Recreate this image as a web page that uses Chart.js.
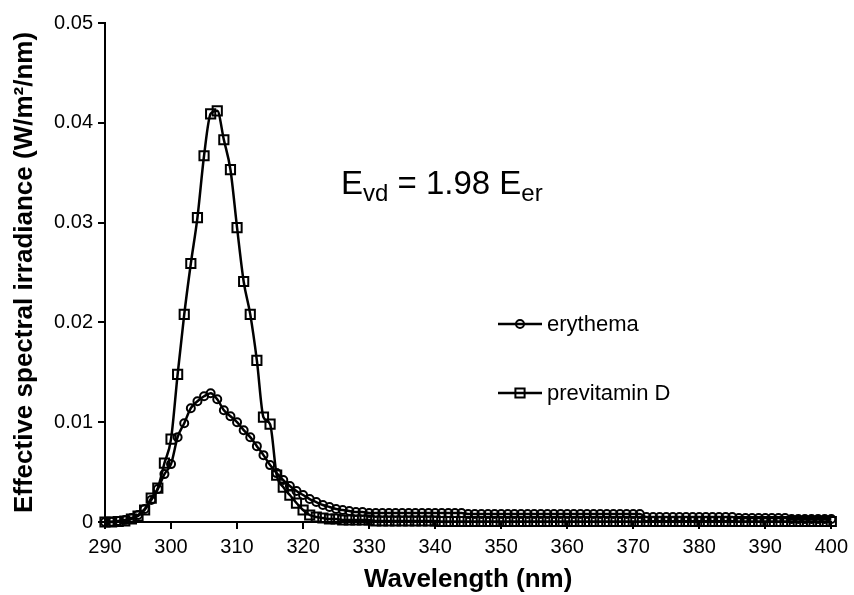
<!DOCTYPE html>
<html>
<head>
<meta charset="utf-8">
<script src="https://cdn.jsdelivr.net/npm/chart.js@4"></script>
<style>
  html, body { margin: 0; padding: 0; background: #fff; }
  #wrap { width: 854px; height: 595px; }
</style>
</head>
<body>
<div id="wrap"><canvas id="chart" width="854" height="595"></canvas></div>
<script>
const wavelengths = [
  290, 291, 292, 293, 294, 295, 296, 297, 298, 299,
  300, 301, 302, 303, 304, 305, 306, 307, 308, 309,
  310, 311, 312, 313, 314, 315, 316, 317, 318, 319,
  320, 321, 322, 323, 324, 325, 326, 327, 328, 329,
  330, 331, 332, 333, 334, 335, 336, 337, 338, 339,
  340, 341, 342, 343, 344, 345, 346, 347, 348, 349,
  350, 351, 352, 353, 354, 355, 356, 357, 358, 359,
  360, 361, 362, 363, 364, 365, 366, 367, 368, 369,
  370, 371, 372, 373, 374, 375, 376, 377, 378, 379,
  380, 381, 382, 383, 384, 385, 386, 387, 388, 389,
  390, 391, 392, 393, 394, 395, 396, 397, 398, 399,
  400
];

const erythema = [
  0, 0.00003, 0.0001, 0.0002, 0.0004, 0.0007, 0.0013, 0.0022, 0.0033, 0.0048,
  0.0058, 0.0085, 0.0099, 0.0114, 0.0121, 0.0126, 0.0129, 0.0123, 0.0112, 0.0106,
  0.0100, 0.0092, 0.0085, 0.0076, 0.0067, 0.0057, 0.0049, 0.0042, 0.0036, 0.0031,
  0.0027, 0.0023, 0.0020, 0.0017, 0.0015, 0.0013, 0.0012, 0.0011, 0.0010, 0.0010,
  0.0009, 0.0009, 0.0009, 0.0009, 0.0009, 0.0009, 0.0009, 0.0009, 0.0009, 0.0009,
  0.0009, 0.0009, 0.0009, 0.0009, 0.0009, 0.0008, 0.0008, 0.0008, 0.0008, 0.0008,
  0.0008, 0.0008, 0.0008, 0.0008, 0.0008, 0.0008, 0.0008, 0.0008, 0.0008, 0.0008,
  0.0008, 0.0008, 0.0008, 0.0008, 0.0008, 0.0008, 0.0008, 0.0008, 0.0008, 0.0008,
  0.0008, 0.0008, 0.0005, 0.0005, 0.0005, 0.0005, 0.0005, 0.0005, 0.0005, 0.0005,
  0.0005, 0.0005, 0.0005, 0.0005, 0.0005, 0.0005, 0.0004, 0.0004, 0.0004, 0.0004,
  0.0004, 0.0004, 0.0004, 0.0004, 0.0003, 0.0003, 0.0003, 0.0003, 0.0003, 0.0003,
  0.0003
];

const previtaminD = [
  0, 0, 0.00005, 0.0001, 0.0003, 0.0006, 0.0012, 0.0024, 0.0034, 0.0059,
  0.0083, 0.0148, 0.0208, 0.0259, 0.0305, 0.0367, 0.0409, 0.0412, 0.0383, 0.0353,
  0.0295, 0.0241, 0.0208, 0.0162, 0.0105, 0.0098, 0.0047, 0.0035, 0.0027, 0.0019,
  0.0012, 0.0007, 0.0005, 0.0004, 0.0003, 0.0003, 0.0002, 0.0002, 0.0002, 0.0002,
  0.0002, 0.0001, 0.0001, 0.0001, 0.0001, 0.0001, 0.0001, 0.0001, 0.0001, 0.0001,
  0.0001, 0.00005, 0.00005, 0.00005, 0.00005, 0.00005, 0.00005, 0.00005, 0.00005, 0.00005,
  0.00005, 0.00005, 0.00005, 0.00005, 0.00005, 0.00005, 0.00005, 0.00005, 0.00005, 0.00005,
  0.00005, 0.00005, 0.00005, 0.00005, 0.00005, 0.00005, 0.00005, 0.00005, 0.00005, 0.00005,
  0.00005, 0.00005, 0.00005, 0.00005, 0.00005, 0.00005, 0.00005, 0.00005, 0.00005, 0.00005,
  0.00005, 0.00005, 0.00005, 0.00005, 0.00005, 0.00005, 0.00005, 0.00005, 0.00005, 0.00005,
  0.00005, 0.00005, 0.00005, 0.00005, 0.00005, 0.00005, 0.00005, 0.00005, 0.00005, 0.00005,
  0.00005
];

const xTicks = [290, 300, 310, 320, 330, 340, 350, 360, 370, 380, 390, 400];
const yTicks = [0, 0.01, 0.02, 0.03, 0.04, 0.05];

const FONT = "'Liberation Sans', Arial, sans-serif";

function pts(ys) {
  return wavelengths.map((x, i) => ({ x: x, y: ys[i] }));
}

// legend + the E_vd annotation, drawn over the plot
const overlay = {
  id: "overlay",
  afterDraw(chart) {
    const ctx = chart.ctx;
    ctx.save();
    ctx.fillStyle = "#000";
    ctx.strokeStyle = "#000";

    // annotation
    let x = 341;
    const base = 194;
    ctx.textBaseline = "alphabetic";
    ctx.textAlign = "left";
    const big = "33px " + FONT, small = "24px " + FONT;
    const parts = [["E", big, 0], ["vd", small, 7], [" = 1.98 E", big, 0], ["er", small, 7]];
    parts.forEach(p => {
      ctx.font = p[1];
      ctx.fillText(p[0], x, base + p[2]);
      x += ctx.measureText(p[0]).width;
    });

    // legend
    const rows = [
      { label: "erythema", y: 324, ds: 0 },
      { label: "previtamin D", y: 393, ds: 1 }
    ];
    rows.forEach(r => {
      const ds = chart.data.datasets[r.ds];
      ctx.lineWidth = 2.5;
      ctx.beginPath();
      ctx.moveTo(498, r.y);
      ctx.lineTo(542, r.y);
      ctx.stroke();
      ctx.lineWidth = ds.pointBorderWidth;
      ctx.fillStyle = "rgba(0,0,0,0)";
      Chart.helpers.drawPoint(ctx, { pointStyle: ds.pointStyle, radius: ds.pointRadius, borderWidth: ds.pointBorderWidth }, 520, r.y);
      ctx.fillStyle = "#000";
      ctx.font = "22px " + FONT;
      ctx.textBaseline = "middle";
      ctx.fillText(r.label, 547, r.y + 1);
    });
    ctx.restore();
  }
};

new Chart(document.getElementById("chart"), {
  type: "line",
  data: {
    datasets: [
      {
        label: "erythema",
        data: pts(erythema),
        borderColor: "#000",
        borderWidth: 2.5,
        pointStyle: "circle",
        pointRadius: 4,
        pointBorderWidth: 2,
        pointBorderColor: "#000",
        pointBackgroundColor: "rgba(0,0,0,0)",
        cubicInterpolationMode: "monotone",
        clip: false
      },
      {
        label: "previtamin D",
        data: pts(previtaminD),
        borderColor: "#000",
        borderWidth: 2.5,
        pointStyle: "rect",
        pointRadius: 6.5,
        pointBorderWidth: 2,
        pointBorderColor: "#000",
        pointBackgroundColor: "rgba(0,0,0,0)",
        cubicInterpolationMode: "monotone",
        clip: false
      }
    ]
  },
  options: {
    responsive: false,
    animation: false,
    devicePixelRatio: 1,
    layout: { padding: { left: 0, right: 17, top: 23, bottom: 0 } },
    plugins: { legend: { display: false }, tooltip: { enabled: false } },
    scales: {
      x: {
        type: "linear",
        min: 290,
        max: 400,
        afterBuildTicks: s => { s.ticks = xTicks.map(v => ({ value: v })); },
        afterFit: s => { s.height = 73; },
        border: { display: true, color: "#000", width: 2 },
        grid: { display: true, drawOnChartArea: false, drawTicks: true, tickLength: 7, color: "#000", lineWidth: 2 },
        ticks: { color: "#000", font: { family: FONT, size: 20 }, padding: 6, maxRotation: 0 },
        title: { display: true, text: "Wavelength (nm)", color: "#000", font: { family: FONT, size: 26, weight: "bold" }, padding: { top: 2, bottom: 0 } }
      },
      y: {
        min: 0,
        max: 0.05,
        afterBuildTicks: s => { s.ticks = yTicks.map(v => ({ value: v })); },
        afterFit: s => { s.width = 105; },
        border: { display: true, color: "#000", width: 2 },
        grid: { display: true, drawOnChartArea: false, drawTicks: true, tickLength: 7, color: "#000", lineWidth: 2 },
        ticks: { color: "#000", font: { family: FONT, size: 20 }, padding: 5, callback: v => v === 0 ? "0" : v.toFixed(2) },
        title: { display: true, text: "Effective spectral irradiance (W/m²/nm)", color: "#000", font: { family: FONT, size: 26, weight: "bold" }, padding: { top: 9, bottom: 0 } }
      }
    }
  },
  plugins: [overlay]
});
</script>
</body>
</html>
